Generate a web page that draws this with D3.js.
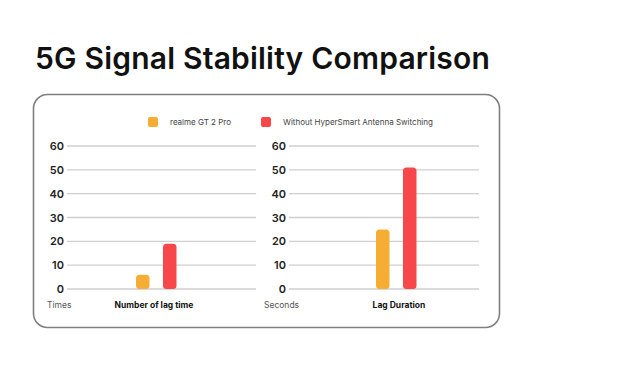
<!DOCTYPE html>
<html>
<head>
<meta charset="utf-8">
<script src="https://cdn.jsdelivr.net/npm/d3@7"></script>
<style>
  body { margin: 0; background: #fff; }
  svg { display: block; font-family: Inter, "Noto Sans", sans-serif; }
</style>
</head>
<body>
<div id="chart"></div>
<script>
// datos del grafico
const series = ["realme GT 2 Pro", "Without HyperSmart Antenna Switching"];
const colores = ["#F5AE33", "#F7474B"];
const ticks = [0, 10, 20, 30, 40, 50, 60];
const paneles = ["Number of lag time", "Lag Duration"];
const unidades = ["Times", "Seconds"];
const lagTimes = [6, 19];
const lagDuration = [25, 51];

const W = 620, H = 372;
const svg = d3.select("#chart").append("svg")
    .attr("width", W)
    .attr("height", H);

// titulo
svg.append("text")
  .attr("x", 35)
  .attr("y", 69)
  .attr("font-size", 30)
  .attr("font-weight", 600)
  .attr("letter-spacing", 0.2)
  .attr("fill", "#111")
  .text("5G Signal Stability Comparison");

// caja redondeada
svg.append("rect")
  .attr("x", 33.5)
  .attr("y", 94.5)
  .attr("width", 466)
  .attr("height", 233)
  .attr("rx", 14)
  .attr("fill", "#fff")
  .attr("stroke", "#7f7f7f")
  .attr("stroke-width", 1.6);

// leyenda
const leyendaX = [148, 261];
series.forEach((s, i) => {
  svg.append("rect")
    .attr("x", leyendaX[i])
    .attr("y", 117)
    .attr("width", 10)
    .attr("height", 10)
    .attr("rx", 2)
    .attr("fill", colores[i]);
  svg.append("text")
    .attr("x", leyendaX[i] + 22)
    .attr("y", 125)
    .attr("font-size", 8)
    .attr("fill", "#444")
    .text(s);
});

const y = d3.scaleLinear().domain([0, 60]).range([289, 146]);

// cada panel: rango de la rejilla y rango de las barras
const rejillas = [[67, 256], [289, 479]];
const barras = [[136, 176.5], [376, 416.5]];
const valores = [lagTimes, lagDuration];

paneles.forEach((p, k) => {
  const g = svg.append("g");
  const [x0, x1] = rejillas[k];

  // lineas de rejilla
  g.selectAll("line.grid")
    .data(ticks)
    .join("line")
    .attr("class", "grid")
    .attr("x1", x0)
    .attr("x2", x1)
    .attr("y1", d => y(d))
    .attr("y2", d => y(d))
    .attr("stroke", "#cfcfcf")
    .attr("stroke-width", 1.4);

  // etiquetas del eje
  g.selectAll("text.tick")
    .data(ticks)
    .join("text")
    .attr("class", "tick")
    .attr("x", x0 - 3)
    .attr("y", d => y(d) + 4)
    .attr("text-anchor", "end")
    .attr("font-size", 11)
    .attr("font-weight", 600)
    .attr("fill", "#222")
    .text(d => d);

  const xb = d3.scaleBand()
    .domain(series)
    .range(barras[k])
    .paddingInner(0.5)
    .paddingOuter(0);

  g.selectAll("path.bar")
    .data(valores[k])
    .join("path")
    .attr("class", "bar")
    .attr("fill", (d, i) => colores[i])
    .attr("d", (d, i) => {
      const bx = xb(series[i]), bw = xb.bandwidth();
      const top = y(d), bot = y(0), r = 3.5;
      return `M${bx},${bot - r}` +
        `Q${bx},${bot} ${bx + r},${bot}` +
        `L${bx + bw - r},${bot}` +
        `Q${bx + bw},${bot} ${bx + bw},${bot - r}` +
        `L${bx + bw},${top + r}` +
        `Q${bx + bw},${top} ${bx + bw - r},${top}` +
        `L${bx + r},${top}` +
        `Q${bx},${top} ${bx},${top + r}Z`;
    });

  // unidad y nombre del panel
  g.append("text")
    .attr("x", k === 0 ? 47 : 264)
    .attr("y", 308)
    .attr("font-size", 8.5)
    .attr("fill", "#555")
    .text(unidades[k]);

  g.append("text")
    .attr("x", k === 0 ? 154 : 399)
    .attr("y", 308)
    .attr("text-anchor", "middle")
    .attr("font-size", 8.5)
    .attr("font-weight", 700)
    .attr("fill", "#111")
    .text(p);
});
</script>
</body>
</html>
